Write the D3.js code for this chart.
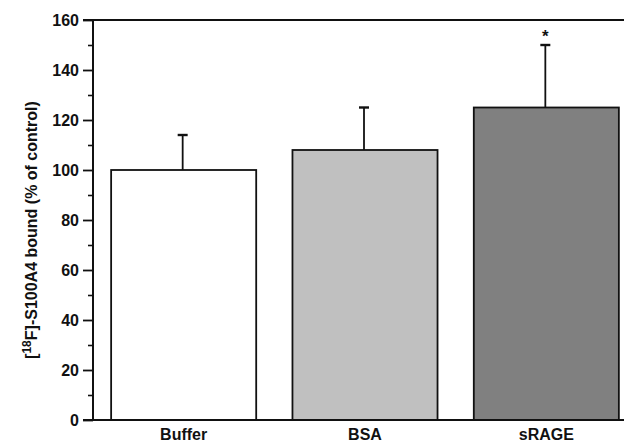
<!DOCTYPE html>
<html><head><meta charset="utf-8">
<script src="https://cdn.jsdelivr.net/npm/d3@7"></script>
<style>body{margin:0;background:#fff}svg{display:block}text{font-family:"Liberation Sans",Arial,sans-serif;font-weight:bold}</style>
</head><body><svg id="c" width="624" height="442"></svg>
<script>
const categories = ["Buffer", "BSA", "sRAGE"];
const values = [100, 108, 125];
const errors = [14, 17, 25];
const fills = ["#ffffff", "#c0c0c0", "#808080"];
const significance = ["", "", "*"];
const yTicks = [0, 20, 40, 60, 80, 100, 120, 140, 160];
const yMinorTicks = [10, 30, 50, 70, 90, 110, 130, 150];

const svg = d3.select("#c");
const x0 = 93, yBase = 420, yTop = 20;
const x = d3.scaleBand().domain(categories).range([x0, 637]).paddingInner(0.2).paddingOuter(0.1);
const y = d3.scaleLinear().domain([0, 160]).range([yBase, yTop]);
const FONT = '"Liberation Sans",Arial,sans-serif';

// bars
svg.append("g").selectAll("rect").data(categories).join("rect")
  .attr("x", d => x(d)).attr("width", x.bandwidth())
  .attr("y", (d, i) => y(values[i])).attr("height", (d, i) => y(0) - y(values[i]))
  .attr("fill", (d, i) => fills[i]).attr("stroke", "#111").attr("stroke-width", 1.8);

// error bars
const eg = svg.append("g").attr("stroke", "#111").attr("stroke-width", 1.8);
categories.forEach((c, i) => {
  const cx = x(c) + x.bandwidth() / 2 - 1;
  eg.append("line").attr("x1", cx).attr("x2", cx).attr("y1", y(values[i])).attr("y2", y(values[i] + errors[i]));
  eg.append("line").attr("x1", cx - 5).attr("x2", cx + 5).attr("y1", y(values[i] + errors[i])).attr("y2", y(values[i] + errors[i])).attr("stroke-width", 2.4);
  if (significance[i]) {
    svg.append("text").attr("x", cx).attr("y", y(values[i] + errors[i]) - 3).attr("text-anchor", "middle")
      .attr("font-size", 17).attr("fill", "#111").text(significance[i]);
  }
});

// top frame line
svg.append("line").attr("x1", x0).attr("x2", 624).attr("y1", yTop).attr("y2", yTop).attr("stroke", "#111").attr("stroke-width", 2);

// y axis
const yAxis = d3.axisLeft(y).tickValues(yTicks).tickSize(10).tickPadding(4).tickFormat(d3.format("d"));
const ga = svg.append("g").attr("transform", `translate(${x0},0)`).call(yAxis);
ga.select(".domain").attr("stroke", "#111").attr("stroke-width", 2).attr("d", `M-10,${yTop}H0V${yBase}H-10`);
ga.selectAll(".tick line").attr("stroke", "#111").attr("stroke-width", 1.8);
ga.selectAll(".tick text").attr("font-size", 16).attr("fill", "#111").style("font-family", FONT).style("font-weight", "bold");
const gm = svg.append("g").attr("transform", `translate(${x0},0)`).call(d3.axisLeft(y).tickValues(yMinorTicks).tickSize(5).tickFormat(""));
gm.select(".domain").remove();
gm.selectAll(".tick line").attr("stroke", "#111").attr("stroke-width", 1.6);

// x axis
const xAxis = d3.axisBottom(x).tickSize(0).tickPadding(9);
const gx = svg.append("g").attr("transform", `translate(0,${yBase})`).call(xAxis);
gx.select(".domain").attr("stroke", "#111").attr("stroke-width", 2).attr("d", `M${x0},0H624`);
gx.selectAll(".tick text").attr("font-size", 16).attr("fill", "#111").style("font-family", FONT).style("font-weight", "bold");

// y label
const lbl = svg.append("text").attr("transform", `translate(37,230) rotate(-90)`)
  .attr("text-anchor", "middle").attr("font-size", 16).attr("fill", "#111");
lbl.append("tspan").text("[");
lbl.append("tspan").attr("font-size", 12).attr("dy", -6).text("18");
lbl.append("tspan").attr("dy", 6).text("F]-S100A4 bound (% of control)");
</script></body></html>
